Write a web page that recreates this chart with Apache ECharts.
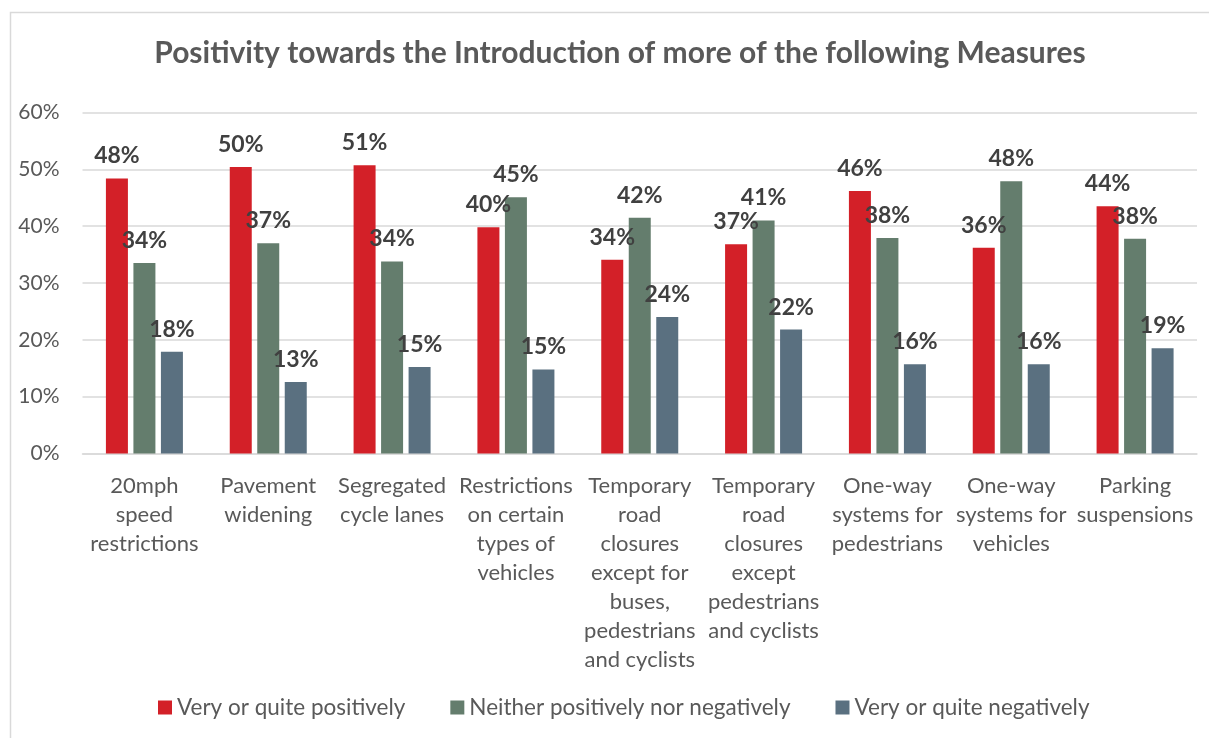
<!DOCTYPE html>
<html>
<head>
<meta charset="utf-8">
<script src="https://cdn.jsdelivr.net/npm/echarts@6/dist/echarts.min.js"></script>
<style>
  html, body { margin: 0; padding: 0; background: #ffffff; }
  #chart { width: 1209px; height: 738px; }
</style>
</head>
<body>
<div id="chart"></div>
<script>
// Survey measures (line breaks follow the wrapped axis labels)
const categories = [
  '20mph\nspeed\nrestrictions',
  'Pavement\nwidening',
  'Segregated\ncycle lanes',
  'Restrictions\non certain\ntypes of\nvehicles',
  'Temporary\nroad\nclosures\nexcept for\nbuses,\npedestrians\nand cyclists',
  'Temporary\nroad\nclosures\nexcept\npedestrians\nand cyclists',
  'One-way\nsystems for\npedestrians',
  'One-way\nsystems for\nvehicles',
  'Parking\nsuspensions'
];

const seriesNames = [
  'Very or quite positively',
  'Neither positively nor negatively',
  'Very or quite negatively'
];

// Share of respondents, in percent
const positive = [48.4, 50.4, 50.7, 39.8, 34.1, 36.8, 46.2, 36.2, 43.5];
const neutral  = [33.5, 37.0, 33.8, 45.1, 41.5, 41.0, 37.9, 47.9, 37.8];
const negative = [17.9, 12.6, 15.2, 14.8, 24.0, 21.8, 15.7, 15.7, 18.5];

const yTicks = { min: 0, max: 60, interval: 10 };

const colors = ['#D32028', '#647D6D', '#5A7080'];
const textGrey = '#595959';
const labelGrey = '#404040';
const fontFamily = 'Lato, "Open Sans", sans-serif';

function barSeries(name, values, color) {
  return {
    name: name,
    type: 'bar',
    data: values,
    barWidth: 22,
    barGap: '25%',
    itemStyle: { color: color },
    label: {
      show: true,
      position: 'top',
      distance: 11,
      formatter: p => Math.round(p.value) + '%',
      fontFamily: fontFamily,
      fontWeight: 'bold',
      fontSize: 23,
      color: labelGrey
    }
  };
}

const chart = echarts.init(document.getElementById('chart'), null, { renderer: 'canvas' });

chart.setOption({
  backgroundColor: '#ffffff',
  animation: false,
  color: colors,
  title: {
    text: 'Positivity towards the Introduction of more of the following Measures',
    left: 615,
    top: 33,
    textAlign: 'center',
    textStyle: {
      fontFamily: fontFamily,
      fontWeight: 'bold',
      fontSize: 30,
      color: textGrey
    }
  },
  graphic: [{
    type: 'rect',
    shape: { x: 10.5, y: 12.5, width: 1220, height: 760 },
    style: { fill: 'none', stroke: '#D9D9D9', lineWidth: 1.5 },
    silent: true
  }],
  legend: {
    bottom: 14,
    left: 153,
    itemWidth: 14,
    itemHeight: 14,
    itemGap: 45,
    icon: 'rect',
    data: seriesNames,
    textStyle: {
      fontFamily: fontFamily,
      fontSize: 22.5,
      color: textGrey,
      padding: [0, 0, 0, 0]
    }
  },
  grid: {
    left: 82.5,
    right: 12,
    top: 112.5,
    height: 341,
    containLabel: false
  },
  xAxis: {
    type: 'category',
    data: categories,
    axisTick: { show: false },
    axisLine: { lineStyle: { color: '#D9D9D9', width: 1.5 } },
    axisLabel: {
      interval: 0,
      margin: 18,
      fontFamily: fontFamily,
      fontSize: 22,
      lineHeight: 29,
      color: textGrey,
      align: 'center'
    }
  },
  yAxis: {
    type: 'value',
    min: yTicks.min,
    max: yTicks.max,
    interval: yTicks.interval,
    axisLine: { show: false },
    axisTick: { show: false },
    splitLine: { lineStyle: { color: '#D9D9D9', width: 1.5 } },
    axisLabel: {
      margin: 23,
      formatter: v => v + '%',
      fontFamily: fontFamily,
      fontSize: 21,
      color: textGrey
    }
  },
  series: [
    barSeries(seriesNames[0], positive, colors[0]),
    barSeries(seriesNames[1], neutral, colors[1]),
    barSeries(seriesNames[2], negative, colors[2])
  ]
});
</script>
</body>
</html>
